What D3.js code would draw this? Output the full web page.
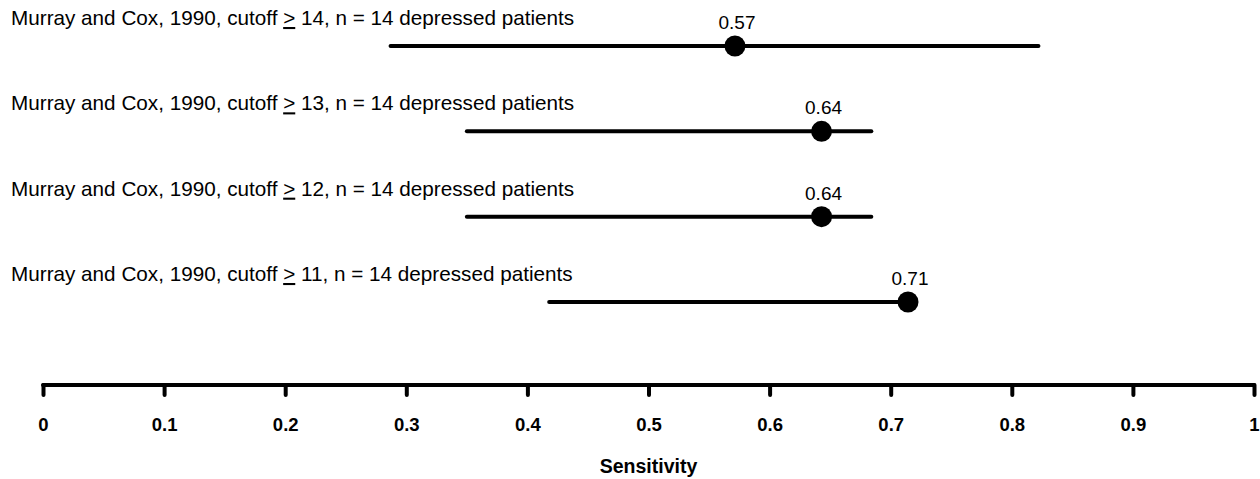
<!DOCTYPE html>
<html>
<head>
<meta charset="utf-8">
<script src="https://cdn.jsdelivr.net/npm/d3@7"></script>
<style>
  html, body { margin: 0; padding: 0; background: #fff; }
  svg { display: block; font-family: "Liberation Sans", Arial, sans-serif; }
</style>
</head>
<body>
<svg id="chart" width="1260" height="479"></svg>
<script>
// ---- data ----
const studies = ["Murray and Cox, 1990", "Murray and Cox, 1990", "Murray and Cox, 1990", "Murray and Cox, 1990"];
const cutoffs = [14, 13, 12, 11];
const patients = [14, 14, 14, 14];
const sensitivity = [0.5714, 0.6429, 0.6429, 0.7143];
const ciLower = [0.287, 0.350, 0.350, 0.418];
const ciUpper = [0.822, 0.684, 0.684, 0.720];
const tickValues = [0, 0.1, 0.2, 0.3, 0.4, 0.5, 0.6, 0.7, 0.8, 0.9, 1];
const axisTitle = "Sensitivity";

const rows = sensitivity.map((v, i) => ({
  i, study: studies[i], cutoff: cutoffs[i], n: patients[i],
  value: v, lo: ciLower[i], hi: ciUpper[i]
}));

const svg = d3.select("#chart");
const x = d3.scaleLinear().domain([0, 1]).range([43, 1254]);
const y = d3.scalePoint().domain(rows.map(d => d.i)).range([46, 302]);

// row labels
const lab = svg.selectAll("text.rowlab").data(rows).join("text")
  .attr("class", "rowlab")
  .attr("x", 11)
  .attr("y", d => y(d.i) - 21)
  .attr("font-size", 20.7)
  .attr("fill", "#000");
lab.append("tspan").text(d => `${d.study}, cutoff `);
lab.append("tspan").attr("text-decoration", "underline").text(">");
lab.append("tspan").text(d => ` ${d.cutoff}, n = ${d.n} depressed patients`);

// CI lines
svg.selectAll("line.ci").data(rows).join("line")
  .attr("class", "ci")
  .attr("x1", d => x(d.lo)).attr("x2", d => x(d.hi))
  .attr("y1", d => y(d.i)).attr("y2", d => y(d.i))
  .attr("stroke", "#000").attr("stroke-width", 4).attr("stroke-linecap", "round");

// points
svg.selectAll("circle.pt").data(rows).join("circle")
  .attr("class", "pt")
  .attr("cx", d => x(d.value)).attr("cy", d => y(d.i))
  .attr("r", 10.5).attr("fill", "#000");

// value labels
svg.selectAll("text.val").data(rows).join("text")
  .attr("class", "val")
  .attr("x", d => x(d.value) + 2)
  .attr("y", d => y(d.i) - 17)
  .attr("text-anchor", "middle")
  .attr("font-size", 19)
  .text(d => d3.format(".2f")(d.value));

// axis
const axis = d3.axisBottom(x)
  .tickValues(tickValues)
  .tickSize(10)
  .tickPadding(23)
  .tickFormat(d => d === 0 ? "0" : d === 1 ? "1" : d3.format(".1f")(d));
const g = svg.append("g").attr("transform", "translate(0,385)").call(axis);
g.select(".domain").attr("d", `M${x(0)},0H${x(1)}`)
  .attr("stroke", "#000").attr("stroke-width", 4).attr("stroke-linecap", "round");
g.selectAll(".tick line").attr("stroke", "#000").attr("stroke-width", 4).attr("stroke-linecap", "round");
g.selectAll(".tick text").attr("font-size", 18.5).attr("font-weight", "bold")
  .attr("font-family", "Liberation Sans, Arial, sans-serif").attr("fill", "#000");

svg.append("text")
  .attr("x", x(0.5)).attr("y", 473)
  .attr("text-anchor", "middle")
  .attr("font-size", 19.5).attr("font-weight", "bold")
  .text(axisTitle);
</script>
</body>
</html>
